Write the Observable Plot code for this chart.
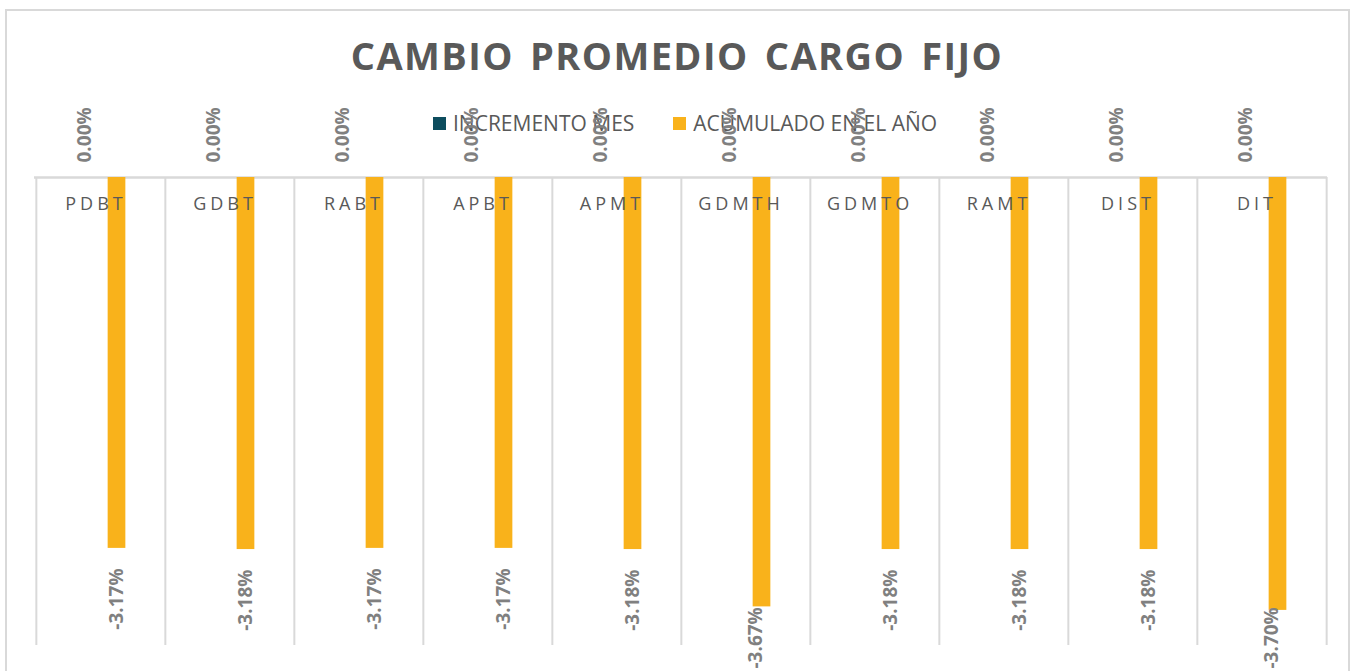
<!DOCTYPE html>
<html>
<head>
<meta charset="utf-8">
<script src="https://cdn.jsdelivr.net/npm/d3@7"></script>
<script src="https://cdn.jsdelivr.net/npm/@observablehq/plot@0.6"></script>
<style>
  html, body { margin: 0; padding: 0; background: #fff; }
  #wrap { position: relative; width: 1356px; height: 671px; overflow: hidden; font-family: "Open Sans", sans-serif; }
  #frame { position: absolute; left: 5px; top: 9px; width: 1345px; height: 720px; border: 2px solid #d9d9d9; box-sizing: border-box; }
  #title { position: absolute; top: 36px; left: 0; width: 1354px; text-align: center; font-weight: 700; font-size: 38px; line-height: 1; color: #595959; letter-spacing: 1.4px; word-spacing: 5px; white-space: nowrap; }
  #legend { position: absolute; top: 113px; left: 433px; display: flex; align-items: center; font-size: 21px; line-height: 1; color: #595959; white-space: nowrap; }
  .item { display: flex; align-items: center; }
  .sw { width: 13px; height: 13px; margin-right: 7px; }
  #chart { position: absolute; left: 0; top: 0; }
</style>
</head>
<body>
<div id="wrap">
  <div id="frame"></div>
  <div id="title"></div>
  <div id="legend"></div>
  <div id="chart"></div>
</div>
<script>
const chartTitle = "CAMBIO PROMEDIO CARGO FIJO";
const categories = ["PDBT", "GDBT", "RABT", "APBT", "APMT", "GDMTH", "GDMTO", "RAMT", "DIST", "DIT"];
const seriesNames = ["INCREMENTO MES", "ACUMULADO EN EL AÑO"];
const seriesColors = ["#0d4d5e", "#f9b21b"];
const incrementoMes = [0, 0, 0, 0, 0, 0, 0, 0, 0, 0];
const acumuladoAnio = [-3.17, -3.18, -3.17, -3.17, -3.18, -3.67, -3.18, -3.18, -3.18, -3.70];
const yDomain = [-4, 0];

document.getElementById("title").textContent = chartTitle;
const legend = document.getElementById("legend");
seriesNames.forEach((name, i) => {
  const it = document.createElement("div");
  it.className = "item";
  if (i > 0) it.style.marginLeft = "39px";
  const sw = document.createElement("div");
  sw.className = "sw";
  sw.style.background = seriesColors[i];
  const tx = document.createElement("span");
  tx.textContent = name;
  it.appendChild(sw); it.appendChild(tx);
  legend.appendChild(it);
});

const W = 1356, H = 671, ML = 34, MR = 29, MT = 177, MB = 26;
const step = (W - ML - MR) / categories.length;
const barW = 18, off = 16;
const inset = (step - barW) / 2;

const inc = categories.map((c, i) => ({cat: c, value: incrementoMes[i]}));
const acu = categories.map((c, i) => ({cat: c, value: acumuladoAnio[i]}));
const fmt = v => v.toFixed(2) + "%";
const labelFont = {fontFamily: "Open Sans", fontWeight: 700, fontSize: 19, fill: "#808080", rotate: -90};

const plot = Plot.plot({
  width: W, height: H,
  marginLeft: ML, marginRight: MR, marginTop: MT, marginBottom: MB,
  style: {background: "transparent", overflow: "visible"},
  x: {type: "band", domain: categories, padding: 0, axis: null},
  y: {domain: yDomain, axis: null},
  marks: [
    Plot.ruleX(categories, {x: d => d, y1: 0, y2: yDomain[0], dx: -step / 2, stroke: "#d9d9d9", strokeWidth: 2}),
    Plot.ruleX(categories.slice(-1), {x: d => d, y1: 0, y2: yDomain[0], dx: step / 2, stroke: "#d9d9d9", strokeWidth: 2}),
    Plot.ruleY([0], {stroke: "#d9d9d9", strokeWidth: 2.5}),
    Plot.barY(inc, {x: "cat", y: "value", fill: seriesColors[0], insetLeft: inset, insetRight: inset, dx: -off}),
    Plot.barY(acu, {x: "cat", y: "value", fill: seriesColors[1], insetLeft: inset, insetRight: inset, dx: off}),
    Plot.text(categories, {x: d => d, y: 0, text: d => d, dy: 27, dx: -5, fontFamily: "Open Sans", fontSize: 18, fill: "#595959"}),
    Plot.text(inc, {x: "cat", y: "value", text: d => fmt(d.value), dx: -off, dy: -15, textAnchor: "start", ...labelFont}),
    Plot.text(acu.filter(d => d.value > -3.4), {x: "cat", y: "value", text: d => fmt(d.value), dx: off, dy: 20, textAnchor: "end", ...labelFont}),
    Plot.text(acu.filter(d => d.value <= -3.4), {x: "cat", frameAnchor: "bottom", text: d => fmt(d.value), dx: off, dy: 23, textAnchor: "start", ...labelFont})
  ]
});
const catGroup = plot.querySelectorAll('g[aria-label="text"]')[0];
if (catGroup) catGroup.setAttribute("letter-spacing", "4");
document.getElementById("chart").appendChild(plot);
</script>
</body>
</html>
